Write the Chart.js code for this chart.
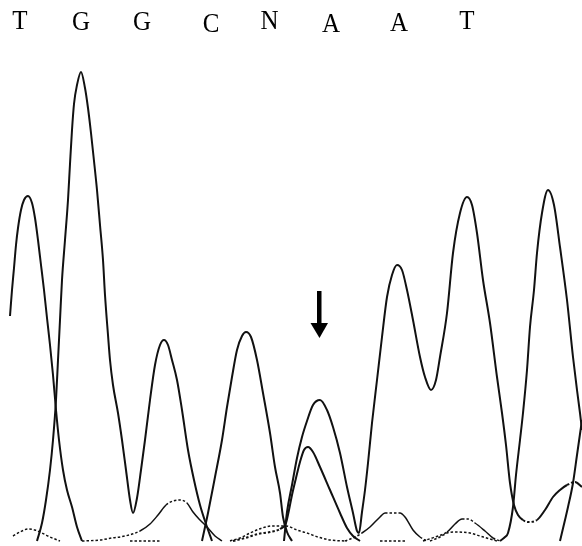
<!DOCTYPE html>
<html><head><meta charset="utf-8">
<script src="https://cdn.jsdelivr.net/npm/chart.js@4/dist/chart.umd.min.js"></script>
<style>html,body{margin:0;padding:0;background:#fff}#wrap{width:582px;height:546px}</style>
</head><body><div id="wrap"><canvas id="c" width="582" height="546"></canvas></div>
<script>
// Base calls read above the trace (scan position of each call)
const baseCalls = ['T','G','G','C','N','A','A','T'];
const callScan = [20, 81, 142, 211, 269.5, 331, 399, 467];
// Arrow marking the ambiguous call: scan position, top and tip intensity
const arrowScan = 319;
const arrowTop = 250;
const arrowTip = 203;

// Trace intensities: [scan position, signal]
const traceT1 = [[10,225],[12,251],[14,273],[16,296],[18,313],[21,331],[24,341],[28,345],[32,338],[35,323],[38,301],[41,276],[44,251],[47,223],[50,196],[53,166],[56,131],[59,101],[63,71],[67,51],[72,34],[77,14],[82,0]];
const traceG = [[37,0],[42,18],[46,41],[50,71],[53,101],[56,141],[58,181],[60,221],[62,261],[65,301],[68,341],[70,377],[72,411],[74,437],[77,456],[81,469],[85,453],[88,433],[91,408],[94,380],[97,351],[100,316],[103,281],[105,246],[108,206],[110,181],[113,156],[118,128],[122,101],[126,71],[130,41],[133,28],[137,43],[141,71],[145,101],[150,141],[155,176],[160,196],[164,201],[168,196],[172,181],[177,161],[182,131],[188,91],[194,61],[200,36],[206,17],[212,0]];
const traceC = [[202,0],[208,28],[215,64],[222,101],[227,134],[232,164],[237,191],[242,205],[246,209],[251,204],[257,181],[263,148],[270,108],[275,74],[280,48],[283,24],[287,9],[292,0]];
const traceA = [[284,0],[287,29],[292,56],[297,83],[302,104],[307,120],[313,136],[320,141],[327,131],[333,114],[340,88],[347,54],[353,28],[357,10],[359,8],[362,29],[365,51],[368,78],[372,118],[377,161],[382,204],[387,244],[392,266],[397,276],[402,271],[407,251],[413,221],[420,184],[425,164],[431,151],[436,161],[440,184],[447,228],[453,288],[460,328],[467,344],[472,336],[477,308],[483,261],[490,218],[497,164],[502,128],[506,96],[510,58],[514,36],[518,26],[523,21],[528,19],[537,21],[545,31],[553,44],[560,51],[567,56],[575,59],[582,54]];
const traceN2 = [[233,0],[245,3],[258,7],[270,9],[280,12],[286,18],[289,31],[292,46],[296,63],[300,79],[304,91],[308,94],[313,89],[320,74],[330,51],[340,28],[347,13],[353,5],[360,0]];
const traceT2 = [[500,0],[505,4],[508,8],[513,34],[516,66],[520,101],[523,128],[527,171],[530,214],[534,251],[537,288],[542,328],[548,351],[554,336],[560,294],[567,241],[573,184],[577,151],[580,128],[582,111]];
const traceR = [[560,0],[565,21],[568,34],[573,58],[577,86],[582,121]];
const bump1 = [[13,5],[20,9],[28,12],[35,11],[42,8],[50,4],[60,0]];
const bump2 = [[82,0],[100,1],[112,3],[125,5],[140,10],[150,17],[158,26],[166,36],[173,40],[180,41],[187,38],[193,29],[200,21],[207,14],[215,5],[222,0]];
const bump3 = [[230,0],[240,3],[250,8],[262,13],[272,15],[286,15],[297,11],[307,8],[318,4],[330,1],[347,0]];
const bump4 = [[345,0],[355,4],[362,8],[370,14],[380,24],[385,28],[392,28],[400,28],[405,24],[413,11],[420,4],[427,0]];
const bump5 = [[423,0],[435,4],[447,9],[455,17],[462,22],[468,22],[475,18],[485,10],[493,3],[500,0]];
const bump6 = [[430,0],[440,4],[447,8],[455,9],[470,8],[480,5],[490,2],[497,0]];
const flat1 = [[130,0],[160,0]];
const flat2 = [[380,0],[405,0]];

const mainTraces = [traceT1, traceG, traceC, traceA, traceN2, traceT2, traceR];
const minorTraces = [bump1, bump2, bump3, bump4, bump5, bump6, flat1, flat2];

function mk(pts, w){
  return {
    data: pts.map(p => ({x: p[0], y: p[1]})),
    borderColor: '#111', borderWidth: w, pointRadius: 0, fill: false,
    cubicInterpolationMode: 'monotone',
    segment: {
      borderDash: ctx => {
        const dx = Math.abs(ctx.p1.x - ctx.p0.x) || 0.001;
        const dy = Math.abs(ctx.p1.y - ctx.p0.y);
        return dy / dx < 0.7 ? [2.5, 2] : undefined;
      }
    }
  };
}

const callsPlugin = {
  id: 'calls',
  afterDraw(chart){
    const ctx = chart.ctx, xs = chart.scales.x, ys = chart.scales.y;
    const lineY = [29, 30, 30, 32, 29, 32, 31, 29];
    ctx.save();
    ctx.fillStyle = '#000';
    ctx.font = '25px "Liberation Serif", "Times New Roman", serif';
    ctx.textAlign = 'center';
    ctx.textBaseline = 'alphabetic';
    baseCalls.forEach((b, i) => {
      ctx.save();
      ctx.translate(xs.getPixelForValue(callScan[i]), lineY[i]);
      ctx.scale(1, 1.1);
      ctx.fillText(b, 0, 0);
      ctx.restore();
    });
    // arrow
    const ax = xs.getPixelForValue(arrowScan);
    const yt = ys.getPixelForValue(arrowTop), yp = ys.getPixelForValue(arrowTip);
    ctx.fillRect(ax - 2, yt, 4.5, (yp - yt) - 12);
    ctx.beginPath();
    ctx.moveTo(ax - 8.5, yp - 15);
    ctx.lineTo(ax + 9, yp - 15);
    ctx.lineTo(ax + 0.5, yp);
    ctx.closePath();
    ctx.fill();
    ctx.restore();
  }
};

new Chart(document.getElementById('c'), {
  type: 'line',
  data: {
    datasets: [
      ...mainTraces.map(t => mk(t, 2)),
      ...minorTraces.map(t => mk(t, 1.5))
    ]
  },
  options: {
    responsive: false, animation: false, devicePixelRatio: 1,
    layout: {padding: 0},
    scales: {
      x: {type: 'linear', min: 0, max: 582, display: false},
      y: {min: -5, max: 541, display: false}
    },
    plugins: {legend: {display: false}, tooltip: {enabled: false}}
  },
  plugins: [callsPlugin]
});
</script></body></html>
